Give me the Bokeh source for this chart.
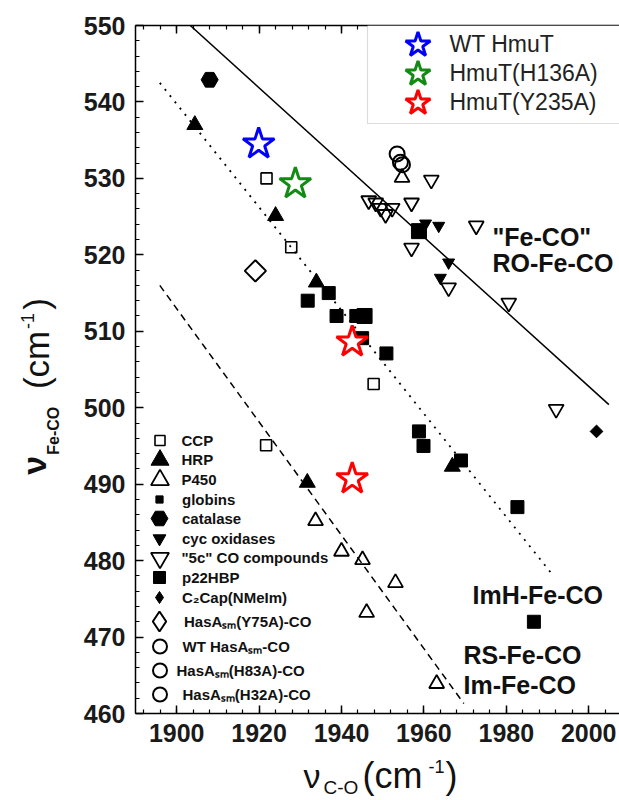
import math
from bokeh.plotting import figure
from bokeh.layouts import column, row
from bokeh.models import (Range1d, LinearAxis, Legend, LegendItem, Label,
                          BoxAnnotation, SingleIntervalTicker)
from bokeh.embed import file_html
from bokeh.resources import INLINE

# ---------------- data ----------------
ccp_x = [1921.8, 1927.8, 1921.7, 1947.8]
ccp_y = [530.0, 521.0, 495.1, 503.1]

hrp_x = [1904.4, 1924.0, 1933.9, 1931.7, 1966.9]
hrp_y = [537.0, 525.1, 516.4, 490.2, 492.3]

p450_x = [1954.7, 1933.7, 1940.0, 1945.1, 1953.1, 1946.1, 1963.1]
p450_y = [530.1, 485.2, 481.2, 480.1, 477.1, 473.2, 463.9]

globin_x = [1931.8, 1936.9, 1938.8, 1943.6, 1945.0, 1950.9, 1958.8, 1959.9, 1969.0, 1982.7, 1986.7]
globin_y = [514.0, 515.0, 512.0, 512.0, 509.1, 507.1, 496.9, 495.0, 493.1, 487.0, 472.0]

catalase_x = [1908.0]
catalase_y = [542.9]

cyc_x = [1960.4, 1963.6, 1966.0, 1964.0]
cyc_y = [524.1, 523.8, 519.0, 517.0]

fivec_x = [1961.8, 1946.6, 1948.3, 1949.5, 1950.7, 1952.3, 1957.0, 1957.0, 1972.7, 1966.0, 1980.6, 1992.1]
fivec_y = [529.8, 527.1, 526.8, 526.1, 525.3, 526.1, 526.8, 520.9, 523.8, 515.7, 513.7, 499.8]

p22_x = [1958.8, 1945.6]
p22_y = [523.1, 512.0]

c2cap_x = [2001.9]
c2cap_y = [496.9]

y75a_x = [1919.1]
y75a_y = [517.9]

wt_hasa_x = [1953.5]
wt_hasa_y = [533.2]
h83a_x = [1954.3]
h83a_y = [532.1]
h32a_x = [1954.8]
h32a_y = [531.8]

wt_hmut_x = [1919.9]
wt_hmut_y = [534.5]
h136a_x = [1928.8]
h136a_y = [529.3]
y235a_x = [1942.6, 1942.6]
y235a_y = [508.6, 490.7]

solid_x = [1903.3, 2004.9]
solid_y = [550.0, 500.4]
dotted_x = [1895.9, 1990.7]
dotted_y = [542.5, 478.5]
dashed_x = [1895.9, 1969.7]
dashed_y = [516.0, 461.3]

# ---------------- layout (page pixels) ----------------
W, H = 619, 800
YLAB_W = 65          # strip holding the rotated y title
MAIN_H = 755         # main figure height (x title strip below)
FL, FT, FR, FB = 135, 25, 619, 713   # frame edges in page pixels
X0 = 1890.0
X1 = X0 + (FR - FL) / 4.12
Y0, Y1 = 460.0, 550.0
NAN = float("nan")


def dx(px):
    return X0 + (px - FL) * (X1 - X0) / (FR - FL)


def dy(py):
    return Y1 - (py - FT) * (Y1 - Y0) / (FB - FT)


p = figure(width=W - YLAB_W, height=MAIN_H, x_range=Range1d(X0, X1),
           y_range=Range1d(Y0, Y1), output_backend="svg", toolbar_location=None,
           min_border_left=FL - YLAB_W, min_border_right=0, min_border_top=FT,
           min_border_bottom=MAIN_H - FB)
p.outline_line_color = None
p.xgrid.visible = False
p.ygrid.visible = False
p.background_fill_color = "white"
p.border_fill_color = "white"

bottom_axis = p.below[0]
left_axis = p.left[0]
bottom_axis.ticker = SingleIntervalTicker(interval=20, num_minor_ticks=5)
left_axis.ticker = SingleIntervalTicker(interval=10, num_minor_ticks=5)
top_axis = LinearAxis(ticker=SingleIntervalTicker(interval=20, num_minor_ticks=5))
p.add_layout(top_axis, "above")


def style_axis(ax):
    ax.axis_line_width = 1.5
    ax.axis_line_color = "black"
    ax.major_tick_in = 8
    ax.major_tick_out = 0
    ax.minor_tick_in = 4
    ax.minor_tick_out = 0
    ax.major_tick_line_width = 1.5
    ax.minor_tick_line_width = 1.2
    ax.major_tick_line_color = "black"
    ax.minor_tick_line_color = "black"
    ax.major_label_text_font = "Liberation Sans"
    ax.major_label_text_font_style = "bold"
    ax.major_label_text_font_size = "25px"
    ax.major_label_text_color = "#1a1a1a"
    ax.major_label_standoff = 10


for ax in (bottom_axis, left_axis, top_axis):
    style_axis(ax)
top_axis.major_label_text_alpha = 0
top_axis.major_label_text_font_size = "8px"
top_axis.major_label_standoff = 0

# ---------------- reference lines ----------------
p.line(solid_x, solid_y, line_color="black", line_width=1.5)
p.line(dotted_x, dotted_y, line_color="black", line_width=1.8, line_dash="2 6")
p.line(dashed_x, dashed_y, line_color="black", line_width=1.5, line_dash="7 5")

# ---------------- scatter series ----------------
Q = math.pi / 4
r_ccp = p.scatter(ccp_x, ccp_y, marker="square", size=11, fill_color=None,
                  line_color="black", line_width=1.6)
r_hrp = p.scatter(hrp_x, hrp_y, marker="triangle", size=16, fill_color="black",
                  line_color="black")
r_p450 = p.scatter(p450_x, p450_y, marker="triangle", size=15, fill_color=None,
                   line_color="black", line_width=1.8)
r_glob = p.scatter(globin_x, globin_y, marker="square", size=13, fill_color="black",
                   line_color="black")
r_cat = p.scatter(catalase_x, catalase_y, marker="hex", size=17, fill_color="black",
                  line_color="black")
r_cyc = p.scatter(cyc_x, cyc_y, marker="inverted_triangle", size=12, fill_color="black",
                  line_color="black")
r_5c = p.scatter(fivec_x, fivec_y, marker="inverted_triangle", size=15, fill_color=None,
                 line_color="black", line_width=1.8)
r_p22 = p.scatter(p22_x, p22_y, marker="square", size=15, fill_color="black",
                  line_color="black")
r_c2 = p.scatter(c2cap_x, c2cap_y, marker="square", size=9, angle=Q, fill_color="black",
                 line_color="black")
r_y75 = p.scatter(y75a_x, y75a_y, marker="square", size=15, angle=Q, fill_color=None,
                  line_color="black", line_width=2)
r_wt = p.scatter(wt_hasa_x, wt_hasa_y, marker="circle", size=15, fill_color=None,
                 line_color="black", line_width=2)
r_h83 = p.scatter(h83a_x, h83a_y, marker="circle", size=15, fill_color=None,
                  line_color="black", line_width=2)
r_h32 = p.scatter(h32a_x, h32a_y, marker="circle", size=15, fill_color=None,
                  line_color="black", line_width=2)

r_s1 = p.scatter(wt_hmut_x, wt_hmut_y, marker="star", size=33, fill_color="white",
                 line_color="#0000ff", line_width=3)
r_s2 = p.scatter(h136a_x, h136a_y, marker="star", size=33, fill_color="white",
                 line_color="#138a13", line_width=3)
r_s3 = p.scatter(y235a_x, y235a_y, marker="star", size=33, fill_color="white",
                 line_color="#ff0000", line_width=3)

# legend keys for the two diamond series (legends do not rotate markers);
# a single NaN point is never drawn in the plot
k_c2 = p.scatter([NAN], [NAN], marker="diamond", size=12, fill_color="black",
                 line_color="black")
k_y75 = p.scatter([NAN], [NAN], marker="diamond", size=20, fill_color=None,
                  line_color="black", line_width=2)

# ---------------- legends (one per entry, so each key keeps its own size) ----------------
box = BoxAnnotation(left=dx(367), right=dx(660), top=Y1, bottom=dy(123),
                    fill_color="white", fill_alpha=1.0, line_color="#8a8a8a",
                    line_width=1.2)
p.add_layout(box)


def entry(label, r, cx, cy, size, text_x, font_size=15, bold=True,
          color="#111111", h=44):
    w = int(round(size / 0.4))
    hh = max(h, w)
    left = cx - w / 2.0
    standoff = max(0, int(round(text_x - left - w)))
    leg = Legend(items=[LegendItem(label=label, renderers=[r])],
                 location=(left - FL, FB - (cy + hh / 2.0)),
                 glyph_width=w, glyph_height=hh, label_standoff=standoff,
                 padding=0, margin=0, border_line_color=None,
                 background_fill_alpha=0, label_text_font="Liberation Sans",
                 label_text_font_style="bold" if bold else "normal",
                 label_text_font_size=f"{font_size}px", label_text_color=color)
    p.add_layout(leg)


LX, TX = 159, 182
entry("CCP", r_ccp, LX, 440, 10, TX)
entry("HRP", r_hrp, LX, 459, 18, TX)
entry("P450", r_p450, LX, 479, 18, TX)
entry("globins", r_glob, LX, 499, 7, TX)
entry("catalase", r_cat, LX, 518, 17, TX)
entry("cyc oxidases", r_cyc, LX, 538, 13, TX)
entry('"5c" CO compounds', r_5c, LX, 557, 18, 177)
entry("p22HBP", r_p22, LX, 577, 12, TX)
entry("C\u2082Cap(NMeIm)", k_c2, LX, 597, 12, TX)
entry("HasA\u209b\u2098(Y75A)-CO", k_y75, LX, 621, 20, TX)
entry("WT HasA\u209b\u2098-CO", r_wt, LX, 646, 14, TX)
entry("HasA\u209b\u2098(H83A)-CO", r_h83, LX, 670, 14, 177)
entry("HasA\u209b\u2098(H32A)-CO", r_h32, LX, 694, 14, TX)

entry("WT HmuT", r_s1, 417, 44, 26, 450, font_size=23, bold=False, color="#222222")
entry("HmuT(H136A)", r_s2, 417, 73, 26, 450, font_size=23, bold=False, color="#222222")
entry("HmuT(Y235A)", r_s3, 417, 102, 26, 450, font_size=23, bold=False, color="#222222")

# Bokeh places "alphabetic" text a bit lower than the true baseline; compensate.
SHIFT = 0.34


def add_text(fig, txt, x, y, size, bold=True, color="#111111", to_data=False):
    yy = y - SHIFT * size
    if to_data:
        x, yy = dx(x), dy(yy)
    fig.add_layout(Label(x=x, y=yy, text=txt, text_font="Liberation Sans",
                         text_font_size=f"{size}px",
                         text_font_style="bold" if bold else "normal",
                         text_baseline="alphabetic", text_align="left",
                         text_color=color))


def add_vtext(fig, txt, x, y, size, bold=True, color="#111111"):
    # rotated 90 deg: x is the baseline column, y is where the text starts (bottom)
    fig.add_layout(Label(x=x - SHIFT * size, y=y + 16, text=txt,
                         text_font="Liberation Sans", text_font_size=f"{size}px",
                         text_font_style="bold" if bold else "normal",
                         text_baseline="alphabetic", text_align="left",
                         angle=math.pi / 2, text_color=color))


add_text(p, '"Fe-CO"', 492, 245, 25, to_data=True)
add_text(p, "RO-Fe-CO", 492, 271, 25, to_data=True)
add_text(p, "ImH-Fe-CO", 472, 603, 25, to_data=True)
add_text(p, "RS-Fe-CO", 463, 663, 25, to_data=True)
add_text(p, "Im-Fe-CO", 463, 693, 25, to_data=True)


# ---------------- axis titles in their own strips (page-pixel ranges) ----------------
def strip(w, h, y_top, y_bot, x_left=0):
    f = figure(width=w, height=h, x_range=Range1d(x_left, x_left + w),
               y_range=Range1d(y_bot, y_top), x_axis_location=None,
               y_axis_location=None, min_border=0, toolbar_location=None,
               output_backend="svg")
    f.outline_line_color = None
    f.background_fill_color = "white"
    f.border_fill_color = "white"
    f.xgrid.visible = False
    f.ygrid.visible = False
    return f


ylab = strip(YLAB_W, MAIN_H, 0, MAIN_H)
xlab = strip(W, H - MAIN_H, MAIN_H, H)

add_vtext(ylab, "\u03bd", 45, 477, 34, bold=True)
add_vtext(ylab, "Fe-CO", 58, 455, 16, bold=True)
add_vtext(ylab, "(cm", 48, 383, 35, bold=False)
add_vtext(ylab, "-1", 33, 317, 18, bold=False)
add_vtext(ylab, ")", 48, 296, 35, bold=False)

add_text(xlab, "\u03bd", 303, 787, 34, bold=False)
add_text(xlab, "C-O", 323, 793, 19, bold=False)
add_text(xlab, "(cm", 362, 787, 36, bold=False)
add_text(xlab, "-1", 428, 772, 18, bold=False)
add_text(xlab, ")", 445, 787, 36, bold=False)

layout = column(row(ylab, p), xlab)
open("out.html", "w").write(file_html(layout, INLINE))
